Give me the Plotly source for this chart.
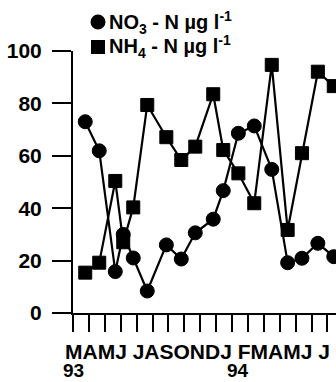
import plotly.graph_objects as go

# Sampling times, in months after 1 March 1993
sample_month = [0.77, 1.65, 2.66, 3.16, 3.79, 4.67, 5.87, 6.81, 7.69,
                8.82, 9.45, 10.4, 11.4, 12.5, 13.5, 14.4, 15.4, 16.4]

# Nitrate and ammonium nitrogen, µg l-1
no3_n = [73.0, 61.9, 15.8, 30.0, 21.0, 8.4, 26.0, 20.6, 30.6,
         35.8, 46.7, 68.6, 71.4, 54.8, 19.2, 20.9, 26.6, 21.5]
nh4_n = [15.4, 19.2, 50.4, 27.0, 40.3, 79.4, 67.1, 58.4, 63.5,
         83.5, 62.2, 53.3, 41.9, 94.7, 31.7, 61.0, 92.1, 86.6]

month_row = "MAMJ JASONDJ FMAMJ J"
year_labels = ["93", "94"]
year_pos = [0.05, 10.4]
y_ticks = [0, 20, 40, 60, 80, 100]

FONT = "Liberation Sans, Arial, Helvetica, sans-serif"
W, H = 336, 382
L, R, T, B = 73, 0, 51, 69
PX_PER_MONTH = 15.9
x_max = (W - L - R) / PX_PER_MONTH

fig = go.Figure()

fig.add_trace(go.Scatter(
    x=sample_month, y=no3_n, mode="lines+markers", name="NO3",
    line=dict(color="black", width=2.2),
    marker=dict(symbol="circle", size=14, color="black",
                line=dict(color="black", width=1)),
    cliponaxis=False, showlegend=False))

fig.add_trace(go.Scatter(
    x=sample_month, y=nh4_n, mode="lines+markers", name="NH4",
    line=dict(color="black", width=2.2),
    marker=dict(symbol="square", size=13, color="black",
                line=dict(color="black", width=1)),
    cliponaxis=False, showlegend=False))


def px_to_paper(px, py):
    return (px - L) / (W - L - R), (H - B - py) / (H - T - B)


# key in the upper left corner
shapes = []
annotations = []
key_rows = [("circle", "NO<sub>3</sub> - N µg l<sup>-1</sup>", 22),
            ("rect", "NH<sub>4</sub> - N µg l<sup>-1</sup>", 47)]
for kind, label, cy in key_rows:
    r = 7.5 if kind == "circle" else 7
    x0, y0 = px_to_paper(98 - r, cy + r)
    x1, y1 = px_to_paper(98 + r, cy - r)
    shapes.append(dict(type=kind, xref="paper", yref="paper",
                       x0=x0, x1=x1, y0=y0, y1=y1,
                       fillcolor="black", line=dict(color="black", width=0)))
    ax, ay = px_to_paper(108, cy)
    annotations.append(dict(text=label, xref="paper", yref="paper",
                            x=ax, y=ay, xanchor="left", yanchor="middle",
                            showarrow=False, borderpad=0,
                            font=dict(family=FONT, size=20, color="black",
                                      weight="bold")))

# month initials and years under the time axis
mx, my = px_to_paper(64, 351)
annotations.append(dict(text=month_row, xref="paper", yref="paper",
                        x=mx, y=my, xanchor="left", yanchor="middle",
                        showarrow=False, borderpad=0,
                        font=dict(family=FONT, size=21, color="black",
                                  weight="bold")))
_, yy = px_to_paper(0, 382)
for lab, pos in zip(year_labels, year_pos):
    annotations.append(dict(text=lab, xref="x", yref="paper",
                            x=pos, y=yy, xanchor="center", yanchor="bottom",
                            showarrow=False, borderpad=0,
                            font=dict(family=FONT, size=19, color="black",
                                      weight="bold")))

fig.update_layout(
    width=W, height=H,
    margin=dict(l=L, r=R, t=T, b=B, pad=0),
    paper_bgcolor="white", plot_bgcolor="white",
    showlegend=False,
    shapes=shapes, annotations=annotations,
    font=dict(family=FONT, size=20, color="black"),
)

fig.update_xaxes(
    range=[0, x_max], showgrid=False, zeroline=False,
    showline=True, linecolor="black", linewidth=2,
    ticks="outside", ticklen=17, tickwidth=2, tickcolor="black",
    tick0=0, dtick=1, showticklabels=False,
)
fig.update_yaxes(
    range=[0, 100], showgrid=False, zeroline=False,
    showline=True, linecolor="black", linewidth=2,
    ticks="outside", ticklen=19, tickwidth=2, tickcolor="black",
    tickvals=y_ticks, ticklabelstandoff=6,
    tickfont=dict(family=FONT, size=21, color="black", weight="bold"),
)

fig.write_html("out.html")
